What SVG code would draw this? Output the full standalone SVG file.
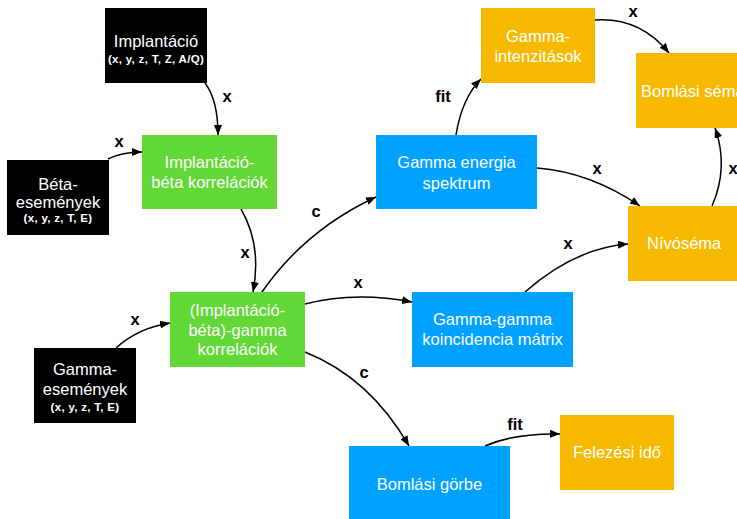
<svg xmlns="http://www.w3.org/2000/svg" width="737" height="519" viewBox="0 0 737 519">
<style>
.t{font-family:"Liberation Sans",Arial,Helvetica,sans-serif;font-size:16.5px;fill:#fff;text-anchor:middle}
.s{font-family:"Liberation Sans",Arial,Helvetica,sans-serif;font-size:11.5px;font-weight:bold;letter-spacing:0.3px;fill:#fff;text-anchor:middle}
.l{font-family:"Liberation Sans",Arial,Helvetica,sans-serif;font-size:16.5px;font-weight:bold;fill:#000;text-anchor:middle}
.k{fill:#000}
.g{fill:#62D836}
.b{fill:#00A2FF}
.o{fill:#F6B900}
.c{fill:none;stroke:#000;stroke-width:1.5;marker-end:url(#ah)}
</style>
<defs>
<marker id="ah" viewBox="0 0 10 8" refX="10" refY="4" markerWidth="10" markerHeight="8" markerUnits="userSpaceOnUse" orient="auto">
<path d="M0,0 L10,4 L0,8 Z" fill="#000"/>
</marker>
</defs>
<rect width="737" height="519" fill="#fff"/>
<g id="connectors">
<path class="c" d="M205,83 Q218,100 218,135"/>
<path class="c" d="M108,159 Q122,152 142,152"/>
<path class="c" d="M116,348 Q138,328 170,323"/>
<path class="c" d="M241,209 Q262,245 253,292"/>
<path class="c" d="M262,292 Q305,230 376,197"/>
<path class="c" d="M305,304 Q355,291 412,302"/>
<path class="c" d="M305,352 Q370,378 409,446"/>
<path class="c" d="M525,292 Q575,248 628,244"/>
<path class="c" d="M537,168 Q590,172 640,206"/>
<path class="c" d="M456,135 Q462,98 481,79"/>
<path class="c" d="M595,20 Q640,17 669,53"/>
<path class="c" d="M712,206 Q729,167 715,128"/>
<path class="c" d="M485,446 Q515,433 560,434"/>
<text class="l" x="227" y="102">x</text>
<text class="l" x="119" y="147">x</text>
<text class="l" x="135" y="325">x</text>
<text class="l" x="245" y="258">x</text>
<text class="l" x="316" y="217">c</text>
<text class="l" x="358" y="288">x</text>
<text class="l" x="364" y="378">c</text>
<text class="l" x="568" y="249">x</text>
<text class="l" x="597" y="174">x</text>
<text class="l" x="443" y="102">fit</text>
<text class="l" x="633" y="17">x</text>
<text class="l" x="733" y="174">x</text>
<text class="l" x="515" y="430">fit</text>
</g>
<g id="implantacio">
<rect class="k" x="105" y="8" width="102" height="75"/>
<text class="t" x="156" y="47">Implantáció</text>
<text class="s" x="156" y="63">(x, y, z, T, Z, A/Q)</text>
</g>
<g id="beta-esemenyek">
<rect class="k" x="7" y="160" width="102" height="75"/>
<text class="t" x="58" y="190">Béta-</text>
<text class="t" x="58" y="208">események</text>
<text class="s" x="58" y="222">(x, y, z, T, E)</text>
</g>
<g id="gamma-esemenyek">
<rect class="k" x="34" y="348" width="102" height="75"/>
<text class="t" x="85" y="375">Gamma-</text>
<text class="t" x="85" y="395">események</text>
<text class="s" x="85" y="411">(x, y, z, T, E)</text>
</g>
<g id="impl-beta-korr">
<rect class="g" x="142" y="135" width="135" height="74"/>
<text class="t" x="209.5" y="168">Implantáció-</text>
<text class="t" x="209.5" y="188">béta korrelációk</text>
</g>
<g id="impl-beta-gamma-korr">
<rect class="g" x="170" y="292" width="135" height="75"/>
<text class="t" x="237.5" y="316">(Implantáció-</text>
<text class="t" x="237.5" y="336">béta)-gamma</text>
<text class="t" x="237.5" y="355">korrelációk</text>
</g>
<g id="gamma-energia">
<rect class="b" x="376" y="135" width="161" height="74"/>
<text class="t" x="456.5" y="168">Gamma energia</text>
<text class="t" x="456.5" y="189">spektrum</text>
</g>
<g id="gamma-gamma">
<rect class="b" x="412" y="292" width="161" height="75"/>
<text class="t" x="492.5" y="325">Gamma-gamma</text>
<text class="t" x="492.5" y="345">koincidencia mátrix</text>
</g>
<g id="bomlasi-gorbe">
<rect class="b" x="349" y="446" width="161" height="75"/>
<text class="t" x="429.5" y="490">Bomlási görbe</text>
</g>
<g id="gamma-intenzitasok">
<rect class="o" x="481" y="8" width="114" height="75"/>
<text class="t" x="538" y="42">Gamma-</text>
<text class="t" x="538" y="62">intenzitások</text>
</g>
<g id="bomlasi-sema">
<rect class="o" x="636" y="53" width="120" height="75"/>
<text class="t" x="641" y="97" style="text-anchor:start">Bomlási séma</text>
</g>
<g id="nivosema">
<rect class="o" x="628" y="206" width="120" height="75"/>
<text class="t" x="647" y="249" style="text-anchor:start">Nívóséma</text>
</g>
<g id="felezesi-ido">
<rect class="o" x="560" y="415" width="114" height="75"/>
<text class="t" x="617" y="458">Felezési idő</text>
</g>
</svg>
